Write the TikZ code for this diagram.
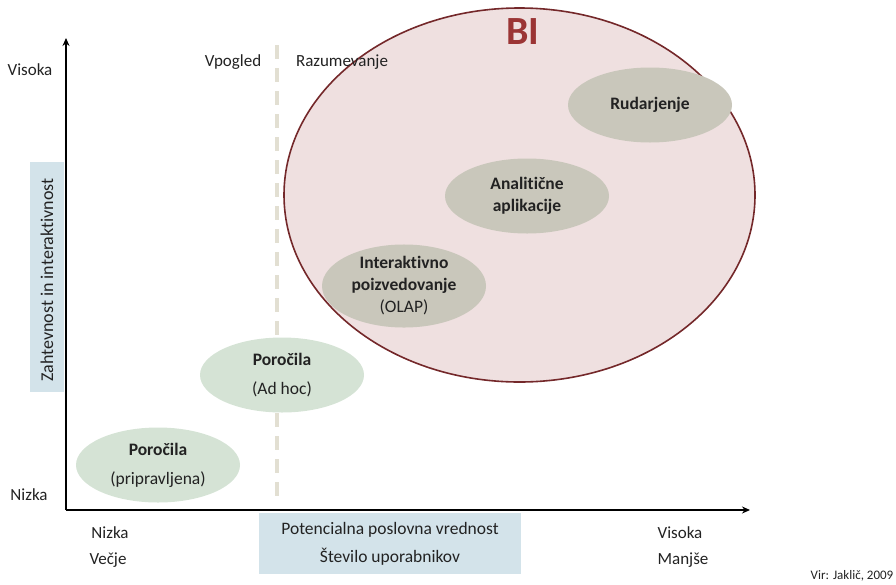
\documentclass[tikz,border=0pt]{standalone}
\usepackage{fontspec}
\setmainfont{Carlito}
\usetikzlibrary{shapes.geometric,arrows.meta}
\newcommand{\myti}{t\kern0pt i}
\definecolor{bifill}{HTML}{EFE0E0}
\definecolor{biline}{HTML}{74282A}
\definecolor{bitext}{HTML}{9B3535}
\definecolor{greyell}{HTML}{C9C7BB}
\definecolor{greenell}{HTML}{D5E3D5}
\definecolor{bluebox}{HTML}{D3E3EA}
\definecolor{dashcol}{HTML}{E2DFD2}
\definecolor{txt}{HTML}{222222}
\tikzset{
  ell/.style={ellipse, minimum width=#1, align=center, inner sep=0pt, text=txt, font=\fontsize{17.5}{22}\selectfont},
  greyE/.style={ell=164pt, minimum height=75pt, fill=greyell},
  greenE/.style={ell=164pt, minimum height=75pt, fill=greenell},
  lbl/.style={font=\fontsize{17}{21}\selectfont, text=txt, inner sep=0pt},
  axis/.style={line width=2pt, -{Stealth[length=8pt,width=7pt]}},
}
\begin{document}
\begin{tikzpicture}[x=1pt,y=-1pt]
\useasboundingbox (0,0) rectangle (896,584);
% BI ellipse
\node[ellipse, draw=biline, line width=1.6pt, fill=bifill, minimum width=471pt, minimum height=374pt, inner sep=0pt] (bi) at (519.5,195) {};
\node[font=\fontsize{40}{42}\selectfont\bfseries, text=bitext, inner sep=0pt] (bit) at (523,32) {BI};
% dashed divider
\coordinate (dtop) at (277,45);
\coordinate (dbot) at (277,505);
\draw[dashcol, line width=3.5pt, dash pattern=on 14pt off 9pt] (dtop) -- (dbot);
% axes
\coordinate (o) at (66,510);
\coordinate (ytip) at (66,38);
\coordinate (xtip) at (750,510);
\draw[axis] (o) -- (ytip);
\draw[axis] (o) -- (xtip);
% ellipses
\node[greyE] (rud) at (650,105) {\textbf{Rudarjenje}};
\node[greyE] (ana) at (527,196) {\textbf{Anali\myti čne}\\\textbf{aplikacije}};
\node[greyE] (olap) at (404,286) {\textbf{Interak\myti vno}\\\textbf{poizvedovanje}\\(OLAP)};
\node[greenE] (adhoc) at (282,375) {\textbf{Poročila}\\[7pt](Ad hoc)};
\node[greenE] (prip) at (158,465) {\textbf{Poročila}\\[7pt](pripravljena)};
% axis label boxes
\node[fill=bluebox, minimum width=34pt, minimum height=230pt, inner sep=0pt] (ybox) at (47,277) {};
\node[font=\fontsize{18}{21}\selectfont, text=txt, inner sep=0pt, rotate=90] (ylab) at (47,280) {Zahtevnost in interak\myti vnost};
\node[fill=bluebox, minimum width=262pt, minimum height=61pt, inner sep=0pt, align=center, font=\fontsize{17.5}{28}\selectfont, text=txt] (xbox) at (390,543.5) {Potencialna poslovna vrednost\\Število uporabnikov};
% labels
\node[lbl] (yhi) at (30,70) {Visoka};
\node[lbl] (ylo) at (29,495) {Nizka};
\node[lbl] (vp) at (233,62) {Vpogled};
\node[lbl] (raz) at (342,62) {Razumevanje};
\node[lbl] (xlo) at (110,533) {Nizka};
\node[lbl] (xlo2) at (108,560) {Večje};
\node[lbl] (xhi) at (680,533) {Visoka};
\node[lbl] (xhi2) at (683,560) {Manjše};
\node[font=\fontsize{13}{15}\selectfont, text=txt, inner sep=0pt] (vir) at (852,576) {Vir: Jaklič, 2009};
\end{tikzpicture}
\end{document}
